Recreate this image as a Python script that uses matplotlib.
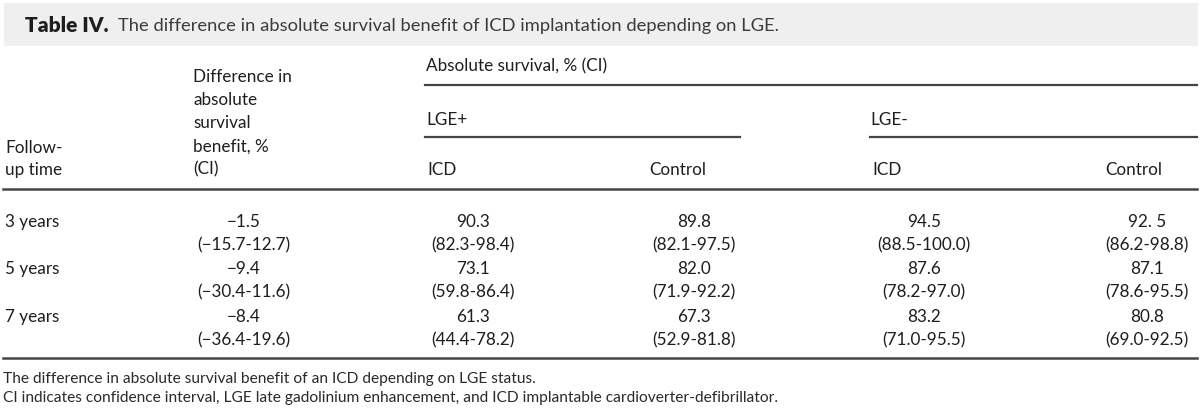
import matplotlib
matplotlib.use('Agg')
import matplotlib.pyplot as plt
from matplotlib.patches import Rectangle

plt.rcParams['font.family'] = ['Lato', 'DejaVu Sans']

# Table content
title_bold = 'Table IV.'
title_rest = 'The difference in absolute survival benefit of ICD implantation depending on LGE.'
follow_up = ['3 years', '5 years', '7 years']
diff_val = ['\u22121.5', '\u22129.4', '\u22128.4']
diff_ci = ['(\u221215.7-12.7)', '(\u221230.4-11.6)', '(\u221236.4-19.6)']
pos_icd_val = ['90.3', '73.1', '61.3']
pos_icd_ci = ['(82.3-98.4)', '(59.8-86.4)', '(44.4-78.2)']
pos_ctrl_val = ['89.8', '82.0', '67.3']
pos_ctrl_ci = ['(82.1-97.5)', '(71.9-92.2)', '(52.9-81.8)']
neg_icd_val = ['94.5', '87.6', '83.2']
neg_icd_ci = ['(88.5-100.0)', '(78.2-97.0)', '(71.0-95.5)']
neg_ctrl_val = ['92. 5', '87.1', '80.8']
neg_ctrl_ci = ['(86.2-98.8)', '(78.6-95.5)', '(69.0-92.5)']
footnotes = ['The difference in absolute survival benefit of an ICD depending on LGE status.',
             'CI indicates confidence interval, LGE late gadolinium enhancement, and ICD implantable cardioverter-defibrillator.']

fig = plt.figure(figsize=(12, 4.11), dpi=100)
ax = fig.add_axes([0, 0, 1, 1])
ax.set_xlim(0, 1200)
ax.set_ylim(411, 0)
ax.axis('off')

txt = '#1e1e1e'
fs = 12.3
line_c = '#444444'

# title band
ax.add_patch(Rectangle((4, 3), 1194, 43, color='#efefef', lw=0))
t = ax.text(25, 24, title_bold, fontsize=15, fontweight='heavy', color='#1e1e1e', va='center_baseline')
fig.canvas.draw()
bb = t.get_window_extent().transformed(ax.transData.inverted())
ax.text(bb.x1 + 10, 24, title_rest, fontsize=13.2, color='#3c3c3c', va='center_baseline')

# header
ax.text(426, 65, 'Absolute survival, % (CI)', fontsize=fs, color=txt, va='center_baseline')
ax.plot([425, 1197], [85, 85], color=line_c, lw=1.6)
ax.text(426, 118, 'LGE+', fontsize=fs, color=txt, va='center_baseline')
ax.text(870, 118, 'LGE-', fontsize=fs, color=txt, va='center_baseline')
ax.plot([425, 740], [137, 137], color=line_c, lw=1.6)
ax.plot([870, 1197], [137, 137], color=line_c, lw=1.6)

for i, s in enumerate(['Difference in', 'absolute', 'survival', 'benefit, %', '(CI)']):
    ax.text(193, 75 + i * 23.3, s, fontsize=fs, color=txt, va='center_baseline')
ax.text(5, 146, 'Follow-', fontsize=fs, color=txt, va='center_baseline')
ax.text(5, 168, 'up time', fontsize=fs, color=txt, va='center_baseline')
for x, s in [(427, 'ICD'), (649, 'Control'), (872, 'ICD'), (1105, 'Control')]:
    ax.text(x, 168, s, fontsize=fs, color=txt, va='center_baseline')
ax.plot([3, 1197], [189, 189], color=line_c, lw=1.8)

# body
columns = [(244, diff_val, diff_ci), (473, pos_icd_val, pos_icd_ci),
           (694, pos_ctrl_val, pos_ctrl_ci), (924, neg_icd_val, neg_icd_ci),
           (1147, neg_ctrl_val, neg_ctrl_ci)]
for r in range(3):
    y = 220 + r * 47.5
    ax.text(5, y, follow_up[r], fontsize=fs, color=txt, va='center_baseline')
    for cx, vals, cis in columns:
        ax.text(cx, y, vals[r], fontsize=fs, color=txt, ha='center', va='center_baseline')
        ax.text(cx, y + 23.5, cis[r], fontsize=fs, color=txt, ha='center', va='center_baseline')
ax.plot([3, 1197], [358, 358], color=line_c, lw=1.8)

# footnotes
ax.text(3, 377, footnotes[0], fontsize=11.2, color='#2a2a2a', va='center_baseline')
ax.text(3, 396, footnotes[1], fontsize=11.2, color='#2a2a2a', va='center_baseline')

fig.savefig('out.png', dpi=100)
